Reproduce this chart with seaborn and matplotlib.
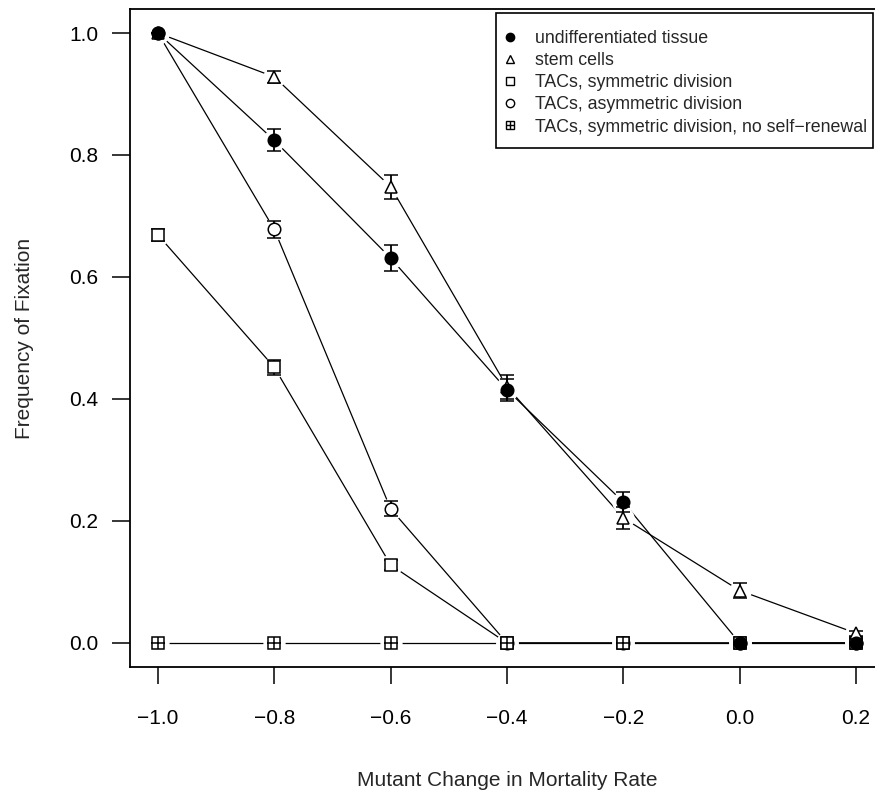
import pandas as pd
import numpy as np
import matplotlib
matplotlib.use('Agg')
import matplotlib.pyplot as plt
import seaborn as sns
from matplotlib.lines import Line2D
from matplotlib.patches import Rectangle

# Data
mortality = [-1.0, -0.8, -0.6, -0.4, -0.2, 0.0, 0.2]

undiff = [1.0, 0.824, 0.631, 0.415, 0.231, 0.0, 0.0]
undiff_err = [0.0, 0.018, 0.021, 0.018, 0.016, 0.0, 0.0]

stem = [1.0, 0.928, 0.748, 0.420, 0.205, 0.086, 0.016]
stem_err = [0.0, 0.010, 0.020, 0.020, 0.018, 0.013, 0.004]

tac_sym = [0.669, 0.452, 0.128, 0.0, 0.0, 0.0, 0.0]
tac_sym_err = [0.010, 0.012, 0.008, 0.0, 0.0, 0.0, 0.0]

tac_asym = [1.0, 0.678, 0.220, 0.0, 0.0, 0.0, 0.0]
tac_asym_err = [0.0, 0.014, 0.012, 0.0, 0.0, 0.0, 0.0]

tac_noself = [0.0, 0.0, 0.0, 0.0, 0.0, 0.0, 0.0]
tac_noself_err = [0.0, 0.0, 0.0, 0.0, 0.0, 0.0, 0.0]

labels = ['undifferentiated tissue', 'stem cells', 'TACs, symmetric division',
          'TACs, asymmetric division', 'TACs, symmetric division, no self\u2212renewal']

series = [
    (labels[4], tac_noself, tac_noself_err),
    (labels[3], tac_asym, tac_asym_err),
    (labels[2], tac_sym, tac_sym_err),
    (labels[1], stem, stem_err),
    (labels[0], undiff, undiff_err),
]

rows = []
for name, vals, errs in series:
    for x, v, e in zip(mortality, vals, errs):
        rows.append({'rate': x, 'freq': v, 'err': e, 'series': name})
df = pd.DataFrame(rows)

sns.set_style('ticks')
plt.rcParams['font.family'] = ['Liberation Sans', 'DejaVu Sans']
plt.rcParams['axes.unicode_minus'] = True

fig = plt.figure(figsize=(8.75, 7.96), dpi=100)
ax = fig.add_axes([130 / 875, 1 - 667.4 / 796, 754 / 875, 658.8 / 796])

# connecting lines
sns.lineplot(data=df, x='rate', y='freq', hue='series',
             palette=['black'] * 5, estimator=None, legend=False,
             linewidth=0.9, ax=ax, zorder=1)

# white halos give the gapped "type b" look
ax.plot(df['rate'], df['freq'], linestyle='none', marker='o',
        markersize=15, color='white', markeredgecolor='white', zorder=2)

styles = {
    labels[0]: dict(marker='o', markerfacecolor='black'),
    labels[1]: dict(marker='^', markerfacecolor='white'),
    labels[2]: dict(marker='s', markerfacecolor='white'),
    labels[3]: dict(marker='o', markerfacecolor='white'),
    labels[4]: dict(marker='s', markerfacecolor='white'),
}
msize = {labels[0]: 9, labels[1]: 9, labels[2]: 8, labels[3]: 9, labels[4]: 8.5}

for name, vals, errs in series:
    sub = df[df['series'] == name]
    ax.errorbar(sub['rate'], sub['freq'], yerr=sub['err'], linestyle='none',
                color='black', markeredgecolor='black', markeredgewidth=1.1,
                markersize=msize[name], elinewidth=1.3, capsize=5, capthick=1.3,
                zorder=3, **styles[name])
    if name == labels[4]:
        ax.plot(sub['rate'], sub['freq'], linestyle='none', marker='+',
                markersize=8.5, markeredgewidth=1.1, color='black', zorder=4)

ax.set_xlim(-1.048, 0.248)
ax.set_ylim(-0.04, 1.04)
ax.set_xticks(mortality)
ax.set_xticklabels([f'{v:.1f}'.replace('-', '\u2212') for v in mortality])
ax.set_yticks([0.0, 0.2, 0.4, 0.6, 0.8, 1.0])
ax.set_yticklabels(['0.0', '0.2', '0.4', '0.6', '0.8', '1.0'])
ax.tick_params(axis='x', length=12, width=1.1, pad=18, labelsize=15, colors='black')
ax.tick_params(axis='y', length=13, width=1.1, pad=10, labelsize=15, colors='black')

for sp in ax.spines.values():
    sp.set_visible(True)
    sp.set_color('black')
    sp.set_linewidth(1.3)

ax.set_xlabel('Mutant Change in Mortality Rate', fontsize=15, labelpad=31)
ax.set_ylabel('Frequency of Fixation', fontsize=15, labelpad=25)

handles = [
    Line2D([], [], linestyle='none', marker='o', color='black', markersize=6),
    Line2D([], [], linestyle='none', marker='^', color='black', markerfacecolor='white', markersize=6),
    Line2D([], [], linestyle='none', marker='s', color='black', markerfacecolor='white', markersize=5.5),
    Line2D([], [], linestyle='none', marker='o', color='black', markerfacecolor='white', markersize=6),
    (Line2D([], [], linestyle='none', marker='s', color='black', markerfacecolor='white', markersize=5.5),
     Line2D([], [], linestyle='none', marker='+', color='black', markersize=5.5)),
]
leg = ax.legend(handles, labels, loc='upper left',
                bbox_to_anchor=(503 / 875, 1 - 30 / 796), bbox_transform=fig.transFigure,
                fontsize=12.8, frameon=False, borderpad=0, handlelength=0.8,
                handletextpad=1.0, labelspacing=0.29, borderaxespad=0)

# R-style legend box
fig.add_artist(Rectangle((496 / 875, 1 - 148 / 796), 377 / 875, 135 / 796,
                         transform=fig.transFigure, fill=False,
                         edgecolor='black', linewidth=1.2, zorder=5))

fig.savefig('out.png', dpi=100)
